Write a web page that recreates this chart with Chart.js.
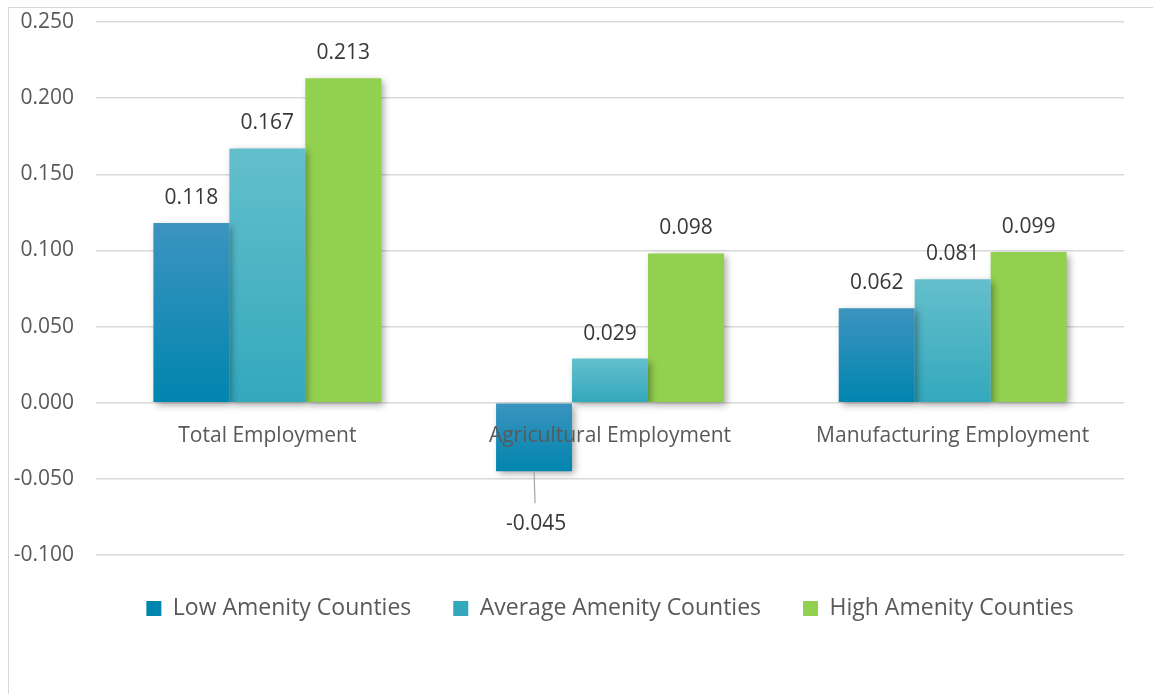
<!DOCTYPE html>
<html>
<head>
<meta charset="utf-8">
<script src="https://cdn.jsdelivr.net/npm/chart.js@4/dist/chart.umd.min.js"></script>
<style>
  html, body { margin: 0; padding: 0; background: #fff; overflow: hidden; }
  #wrap { position: relative; width: 1153px; height: 694px; }
  #frame { position: absolute; left: 8px; top: 7px; width: 1300px; height: 900px; border: 1.5px solid #d9d9d9; }
  canvas { position: absolute; left: 0; top: 0; }
</style>
</head>
<body>
<div id="wrap">
  <div id="frame"></div>
  <canvas id="chart" width="1153" height="694"></canvas>
</div>
<script>
const categories = ["Total Employment", "Agricultural Employment", "Manufacturing Employment"];
const seriesNames = ["Low Amenity Counties", "Average Amenity Counties", "High Amenity Counties"];
const lowAmenity = [0.118, -0.045, 0.062];
const averageAmenity = [0.167, 0.029, 0.081];
const highAmenity = [0.213, 0.098, 0.099];
const yTicks = [-0.100, -0.050, 0.000, 0.050, 0.100, 0.150, 0.200, 0.250];

const FONT = "'Open Sans', 'Liberation Sans', sans-serif";
const GRAY = "#595959";

// each bar gets its own vertical gradient, light on top, darker at the bottom
function barGradient(light, dark) {
  return function (ctx) {
    const chart = ctx.chart;
    const y = chart.scales.y;
    if (!y || ctx.raw === undefined || !chart.chartArea) return dark;
    const yv = y.getPixelForValue(ctx.raw);
    const y0 = y.getPixelForValue(0);
    const top = Math.min(yv, y0), bottom = Math.max(yv, y0);
    if (!isFinite(top) || bottom - top < 1) return dark;
    const g = chart.ctx.createLinearGradient(0, top, 0, bottom);
    g.addColorStop(0, light);
    g.addColorStop(1, dark);
    return g;
  };
}

// soft drop shadow under the bars
const barShadow = {
  id: "barShadow",
  beforeDatasetsDraw(chart) {
    const c = chart.ctx;
    c.save();
    c.shadowColor = "rgba(0,0,0,0.35)";
    c.shadowBlur = 7;
    c.shadowOffsetX = 3;
    c.shadowOffsetY = 3;
  },
  afterDatasetsDraw(chart) {
    chart.ctx.restore();
  }
};

// value labels above (or below, with a leader line) each bar
const valueLabels = {
  id: "valueLabels",
  afterDatasetsDraw(chart) {
    const c = chart.ctx;
    c.save();
    c.font = "21px " + FONT;
    c.fillStyle = "#383838";
    c.textAlign = "center";
    c.textBaseline = "middle";
    chart.data.datasets.forEach((ds, i) => {
      const meta = chart.getDatasetMeta(i);
      meta.data.forEach((bar, j) => {
        const v = ds.data[j];
        const txt = v.toFixed(3);
        if (v >= 0) {
          c.fillText(txt, bar.x, bar.y - 25);
        } else {
          c.strokeStyle = "#a6a6a6";
          c.lineWidth = 1.2;
          c.beginPath();
          c.moveTo(bar.x, bar.y);
          c.lineTo(bar.x + 1, bar.y + 32);
          c.stroke();
          c.fillText(txt, bar.x + 2, bar.y + 53);
        }
      });
    });
    c.restore();
  }
};

new Chart(document.getElementById("chart"), {
  type: "bar",
  data: {
    labels: categories,
    datasets: [
      { label: seriesNames[0], data: lowAmenity, backgroundColor: barGradient("#3c94bf", "#0085af") },
      { label: seriesNames[1], data: averageAmenity, backgroundColor: barGradient("#64bfcc", "#33a8bc") },
      { label: seriesNames[2], data: highAmenity, backgroundColor: "#92d050" }
    ]
  },
  options: {
    responsive: false,
    animation: false,
    events: [],
    layout: { padding: { top: 22, left: 0, right: 0, bottom: 64 } },
    datasets: {
      bar: { categoryPercentage: 0.665, barPercentage: 1.0, borderWidth: 0 }
    },
    scales: {
      x: {
        position: { y: 0 },
        grid: { display: false, drawTicks: false },
        border: { display: false },
        ticks: { z: 1, color: GRAY, font: { family: FONT, size: 21 }, padding: 21, maxRotation: 0 }
      },
      y: {
        min: -0.1,
        max: 0.25,
        afterBuildTicks(scale) {
          scale.ticks = yTicks.map(v => ({ value: v }));
        },
        afterFit(scale) {
          scale.width = 96;
          scale.paddingTop = 0;
          scale.paddingBottom = 0;
        },
        grid: { color: "#d9d9d9", lineWidth: 1.5, drawTicks: false },
        border: { display: false },
        ticks: {
          color: GRAY,
          font: { family: FONT, size: 21 },
          padding: 22,
          callback: v => v.toFixed(3)
        }
      },
      yRight: {
        position: "right",
        grid: { display: false },
        border: { display: false },
        ticks: { display: false },
        afterFit(scale) { scale.width = 29; }
      }
    },
    plugins: {
      tooltip: { enabled: false },
      legend: {
        position: "bottom",
        fullSize: false,
        labels: {
          color: GRAY,
          font: { family: FONT, size: 23 },
          boxWidth: 15,
          boxHeight: 15,
          padding: 42
        }
      }
    }
  },
  plugins: [barShadow, valueLabels]
});
</script>
</body>
</html>
